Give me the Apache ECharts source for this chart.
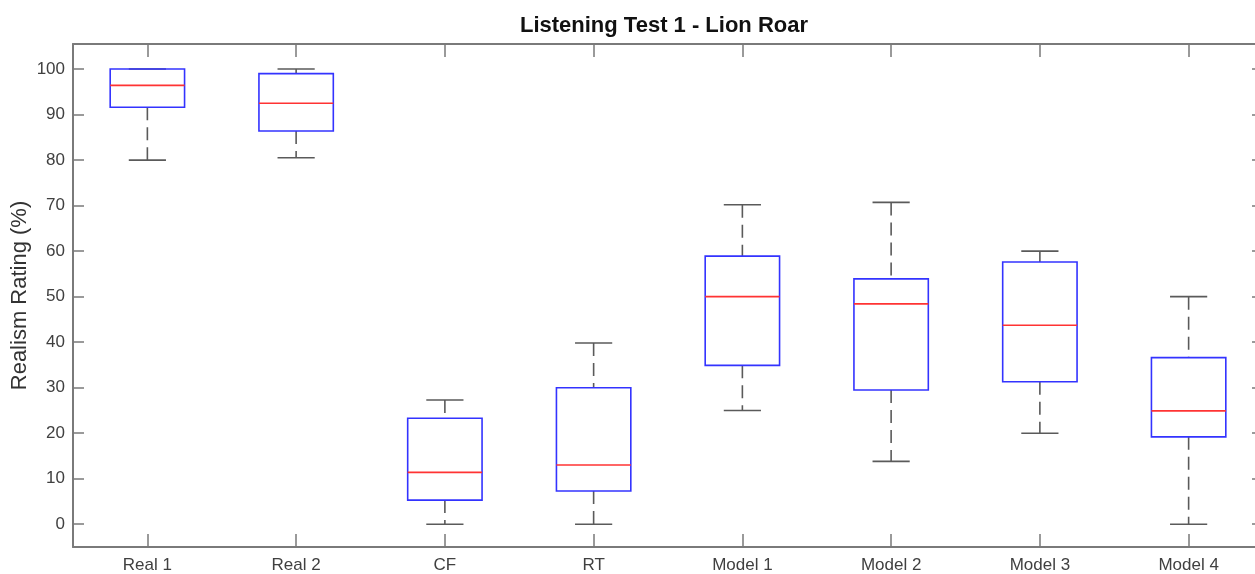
<!DOCTYPE html>
<html>
<head>
<meta charset="utf-8">
<script src="https://cdn.jsdelivr.net/npm/echarts@6/dist/echarts.min.js"></script>
<style>
html,body{margin:0;padding:0;background:#fff;}
#chart{width:1255px;height:574px;}
</style>
</head>
<body>
<div id="chart"></div>
<script>
const categories = ['Real 1','Real 2','CF','RT','Model 1','Model 2','Model 3','Model 4'];
const lowerWhisker = [80, 80.5, 0, 0, 25, 13.8, 20, 0];
const q1 = [91.6, 86.4, 5.3, 7.3, 34.9, 29.5, 31.3, 19.2];
const median = [96.4, 92.5, 11.4, 13.0, 50.0, 48.4, 43.7, 24.9];
const q3 = [100, 99.0, 23.3, 30.0, 58.9, 53.9, 57.6, 36.6];
const upperWhisker = [100, 100, 27.3, 39.8, 70.2, 70.7, 60, 50];
const yTicks = [0,10,20,30,40,50,60,70,80,90,100];

const data = categories.map((c,i)=>[i, lowerWhisker[i], q1[i], median[i], q3[i], upperWhisker[i]]);

const axisColor = '#7a7a7a';
const labelColor = '#404040';
const font = 'Liberation Sans, Arial, sans-serif';

function renderItem(params, api){
  const idx = api.value(0);
  const band = api.size([1,0])[0];
  const boxW = band*0.5;
  const capW = band*0.25;
  const pLo = api.coord([idx, api.value(1)]);
  const pQ1 = api.coord([idx, api.value(2)]);
  const pMed = api.coord([idx, api.value(3)]);
  const pQ3 = api.coord([idx, api.value(4)]);
  const pHi = api.coord([idx, api.value(5)]);
  const x = pMed[0];
  const whiskerStyle = {stroke:'#5a5a5a', lineWidth:1.6, lineDash:[13,7]};
  const capStyle = {stroke:'#5a5a5a', lineWidth:1.6};
  const children = [];
  if (Math.abs(pHi[1]-pQ3[1])>0.5){
    children.push({type:'line', shape:{x1:x,y1:pHi[1],x2:x,y2:pQ3[1]}, style:whiskerStyle});
  }
  if (Math.abs(pLo[1]-pQ1[1])>0.5){
    children.push({type:'line', shape:{x1:x,y1:pQ1[1],x2:x,y2:pLo[1]}, style:whiskerStyle});
  }
  children.push({type:'line', shape:{x1:x-capW/2,y1:pHi[1],x2:x+capW/2,y2:pHi[1]}, style:capStyle});
  children.push({type:'line', shape:{x1:x-capW/2,y1:pLo[1],x2:x+capW/2,y2:pLo[1]}, style:capStyle});
  children.push({type:'rect', shape:{x:x-boxW/2, y:pQ3[1], width:boxW, height:pQ1[1]-pQ3[1]},
    style:{fill:'none', stroke:'#3333ff', lineWidth:1.6}});
  children.push({type:'line', shape:{x1:x-boxW/2,y1:pMed[1],x2:x+boxW/2,y2:pMed[1]},
    style:{stroke:'#ff3333', lineWidth:1.6}});
  return {type:'group', children};
}

const chart = echarts.init(document.getElementById('chart'), null, {renderer:'canvas'});
chart.setOption({
  animation:false,
  backgroundColor:'#fff',
  title:{
    text:'Listening Test 1 - Lion Roar',
    left:659, top:10, textAlign:'center',
    textStyle:{fontFamily:font, fontWeight:'bold', fontSize:22, color:'#111'}
  },
  grid:{left:73, top:44, width:1190, height:503, containLabel:false, outerBoundsMode:'none'},
  xAxis:[{
    type:'category', data:categories, position:'bottom',
    axisLine:{onZero:false, lineStyle:{color:axisColor, width:2}},
    axisTick:{show:true, interval:0, inside:true, length:13, alignWithLabel:true, lineStyle:{color:axisColor, width:1.5}},
    axisLabel:{interval:0, fontFamily:font, fontSize:17, color:labelColor, margin:10},
    splitLine:{show:false}
  },{
    type:'category', data:categories, position:'top',
    axisLine:{onZero:false, lineStyle:{color:axisColor, width:2}},
    axisTick:{show:true, interval:0, inside:true, length:13, alignWithLabel:true, lineStyle:{color:axisColor, width:1.5}},
    axisLabel:{show:false},
    splitLine:{show:false}
  }],
  yAxis:[{
    type:'value', min:-5, max:105.5, position:'left',
    name:'Realism Rating (%)', nameLocation:'middle', nameGap:42, nameRotate:90,
    nameMoveOverlap:false,
    nameTextStyle:{fontFamily:font, fontSize:22, color:'#333'},
    axisLine:{show:true, onZero:false, lineStyle:{color:axisColor, width:2}},
    axisTick:{show:true, inside:true, length:11, customValues:yTicks, lineStyle:{color:axisColor, width:1.5}},
    axisLabel:{customValues:yTicks, fontFamily:font, fontSize:17, color:labelColor, margin:8},
    splitLine:{show:false}
  },{
    type:'value', min:-5, max:105.5, position:'right',
    axisLine:{show:true, onZero:false, lineStyle:{color:axisColor, width:2}},
    axisTick:{show:true, inside:true, length:11, customValues:yTicks, lineStyle:{color:axisColor, width:1.5}},
    axisLabel:{show:false},
    splitLine:{show:false}
  }],
  series:[{
    type:'custom',
    xAxisIndex:0, yAxisIndex:0,
    renderItem:renderItem,
    encode:{x:0, y:[1,2,3,4,5]},
    data:data,
    clip:false
  }]
});
</script>
</body>
</html>
